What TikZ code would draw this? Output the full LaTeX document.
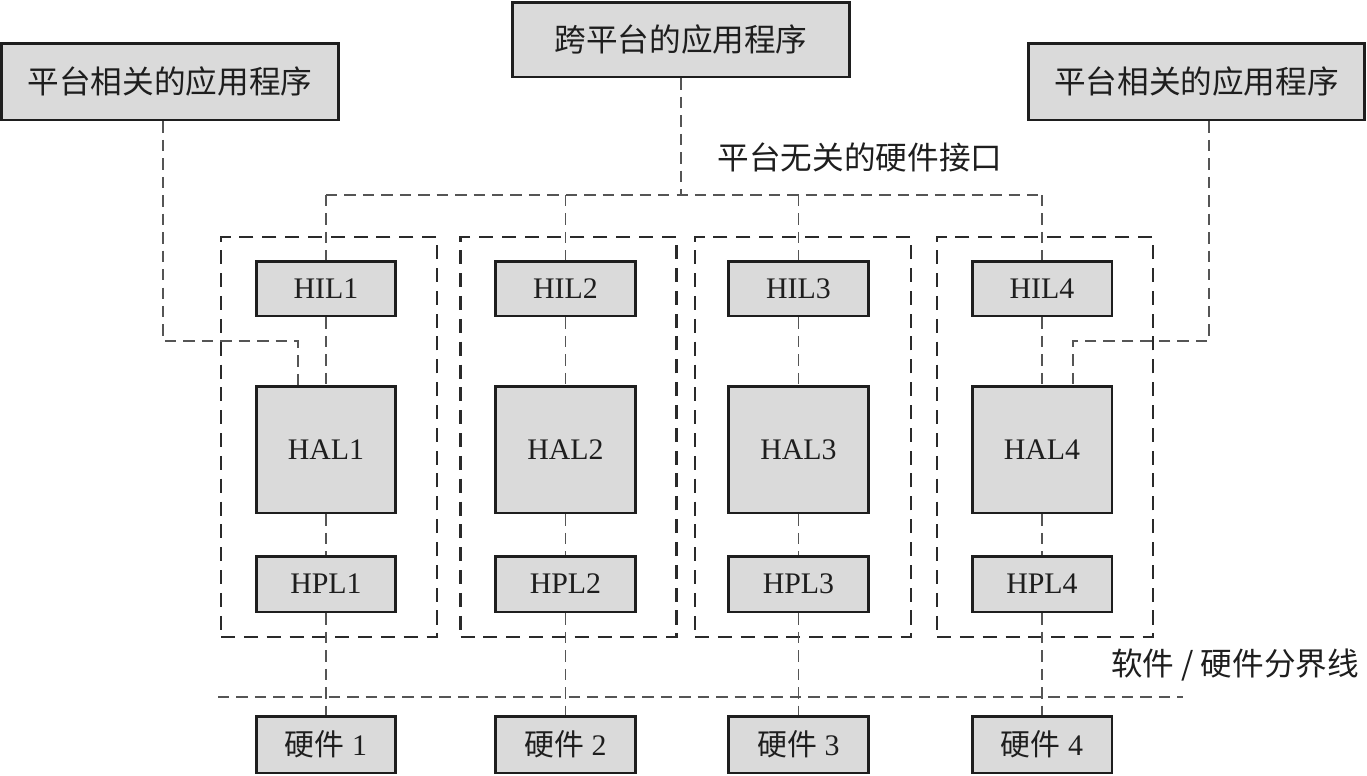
\documentclass[tikz,border=0pt]{standalone}
\usepackage{fontspec}
\setmainfont{Liberation Serif}
\newfontfamily\cjk{Noto Sans CJK SC}
\usepackage{xcolor}
\usetikzlibrary{positioning}
\definecolor{hal-fill}{HTML}{DADADA}
\definecolor{hal-line}{HTML}{1E1E1E}
\definecolor{hal-dash}{HTML}{555555}
\definecolor{hal-frame}{HTML}{2A2A2A}

\begin{document}
\begin{tikzpicture}[
		x=0.02cm, y=-0.02cm,
		layerbox/.style={
			draw=hal-line, fill=hal-fill,
			line width=1.7pt,
			minimum width=2.8cm,
			inner sep=0pt, text=hal-line,
			font=\fontsize{17}{19}\selectfont
		},
		appbox/.style={
			draw=hal-line, fill=hal-fill,
			line width=1.7pt,
			minimum width=6.74cm, minimum height=1.54cm,
			text=hal-line,
			font=\cjk\fontsize{18}{21}\selectfont
		},
		group/.style={
			draw=hal-frame, line width=1.5pt,
			dash pattern=on 8pt off 5pt,
			minimum width=4.32cm, minimum height=8cm,
			inner sep=0pt
		},
		link/.style={
			draw=hal-dash, line width=0.75pt,
			dash pattern=on 6.5pt off 4pt
		},
		caption/.style={
			font=\cjk\fontsize{18}{21}\selectfont, text=hal-line
		}
		]
		
		\useasboundingbox (0,0) rectangle (1367,775);
		
		% gestrichelte Rahmen der vier Plattformen
		\node[group] (grp1) at (329,437) {};
		\node[group] (grp2) at (568.5,437) {};
		\node[group] (grp3) at (803,437) {};
		\node[group] (grp4) at (1045,437) {};
		
		% Anwendungen
		\node[appbox] (appL) at (170,81.5) {平台相关的应用程序};
		\node[appbox, minimum height=1.5cm] (appC) at (681,39.5) {跨平台的应用程序};
		\node[appbox] (appR) at (1196.5,81.5) {平台相关的应用程序};
		
		% Spalte 1
		\node[layerbox, minimum height=1.1cm] (hil1) at (326,288.5) {HIL1};
		\node[layerbox, minimum height=2.54cm] (hal1) at (326,449.5) {HAL1};
		\node[layerbox, minimum height=1.12cm] (hpl1) at (326,584) {HPL1};
		\node[layerbox, minimum height=1.14cm] (hw1) at (326,744.5) {{\cjk 硬件} 1};
		
		% Spalte 2
		\node[layerbox, minimum height=1.1cm] (hil2) at (565.5,288.5) {HIL2};
		\node[layerbox, minimum height=2.54cm] (hal2) at (565.5,449.5) {HAL2};
		\node[layerbox, minimum height=1.12cm] (hpl2) at (565.5,584) {HPL2};
		\node[layerbox, minimum height=1.14cm] (hw2) at (565.5,744.5) {{\cjk 硬件} 2};
		
		% Spalte 3
		\node[layerbox, minimum height=1.1cm] (hil3) at (798.5,288.5) {HIL3};
		\node[layerbox, minimum height=2.54cm] (hal3) at (798.5,449.5) {HAL3};
		\node[layerbox, minimum height=1.12cm] (hpl3) at (798.5,584) {HPL3};
		\node[layerbox, minimum height=1.14cm] (hw3) at (798.5,744.5) {{\cjk 硬件} 3};
		
		% Spalte 4
		\node[layerbox, minimum height=1.1cm] (hil4) at (1042,288.5) {HIL4};
		\node[layerbox, minimum height=2.54cm] (hal4) at (1042,449.5) {HAL4};
		\node[layerbox, minimum height=1.12cm] (hpl4) at (1042,584) {HPL4};
		\node[layerbox, minimum height=1.14cm] (hw4) at (1042,744.5) {{\cjk 硬件} 4};
		
		% Beschriftungen
		\node[caption] (iface) at (860,157) {平台无关的硬件接口};
		\node[caption] (border) at (1235,665) {软件 / 硬件分界线};
		
		% Verbindungspunkte
		\coordinate (bus) at (681,195);
		\coordinate (turnL) at (298,341);
		\coordinate (turnR) at (1073,341);
		
		% plattformunabhaengige Schnittstelle
		\draw[link] (appC.south) -- (bus);
		\draw[link] (hil1.north |- bus) -- (hil4.north |- bus);
		\draw[link] (hil1.north |- bus) -- (hil1.north);
		\draw[link] (hil2.north |- bus) -- (hil2.north);
		\draw[link] (hil3.north |- bus) -- (hil3.north);
		\draw[link] (hil4.north |- bus) -- (hil4.north);
		
		% plattformabhaengige Anwendungen
		\draw[link] ([xshift=-0.14cm]appL.south) |- (turnL) -- (turnL |- hal1.north);
		\draw[link] ([xshift=0.25cm]appR.south) |- (turnR) -- (turnR |- hal4.north);
		
		% Schichten
		\draw[link] (hil1) -- (hal1) (hal1) -- (hpl1) (hpl1) -- (hw1);
		\draw[link] (hil2) -- (hal2) (hal2) -- (hpl2) (hpl2) -- (hw2);
		\draw[link] (hil3) -- (hal3) (hal3) -- (hpl3) (hpl3) -- (hw3);
		\draw[link] (hil4) -- (hal4) (hal4) -- (hpl4) (hpl4) -- (hw4);
		
		% Software / Hardware Grenze
		\draw[link] (218,697) -- (1183,697);
		
	\end{tikzpicture}
\end{document}
